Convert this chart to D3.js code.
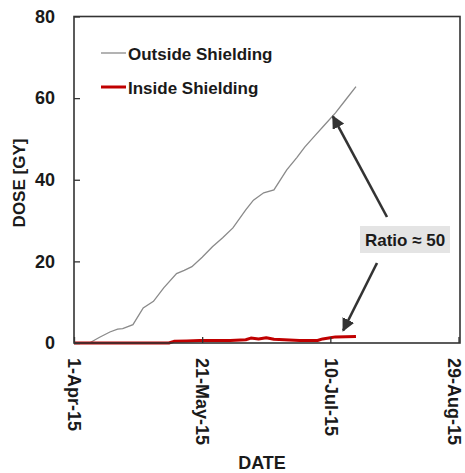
<!DOCTYPE html>
<html>
<head>
<meta charset="utf-8">
<script src="https://cdn.jsdelivr.net/npm/d3@7"></script>
<style>
  html, body { margin: 0; padding: 0; background: #fff; }
  svg { display: block; font-family: "Liberation Sans", Arial, sans-serif; }
</style>
</head>
<body>
<svg id="chart" width="465" height="473"></svg>
<script>
// Cumulative dose outside the shielding
const outsideDates = ["2015-04-07","2015-04-11","2015-04-15","2015-04-18","2015-04-20","2015-04-24",
  "2015-04-28","2015-05-02","2015-05-06","2015-05-11","2015-05-14","2015-05-17","2015-05-21",
  "2015-05-25","2015-05-29","2015-06-02","2015-06-07","2015-06-10","2015-06-14","2015-06-18",
  "2015-06-23","2015-06-27","2015-06-30","2015-07-04","2015-07-08","2015-07-12","2015-07-16","2015-07-20"];
const outsideDose = [0, 1.4, 2.7, 3.4, 3.5, 4.5,
  8.6, 10.2, 13.5, 17.0, 17.8, 18.7, 21.0,
  23.6, 25.8, 28.2, 32.6, 35.0, 36.8, 37.5,
  42.4, 45.5, 48.0, 50.8, 53.6, 56.4, 59.6, 62.8];

// Cumulative dose inside the shielding
const insideDates = ["2015-04-01","2015-05-08","2015-05-10","2015-05-15","2015-05-20",
  "2015-06-01","2015-06-07","2015-06-09","2015-06-12","2015-06-15","2015-06-18",
  "2015-06-22","2015-06-28","2015-07-05","2015-07-07","2015-07-10","2015-07-12","2015-07-20"];
const insideDose = [0, 0, 0.4, 0.5, 0.6,
  0.6, 0.8, 1.2, 1.0, 1.3, 0.9,
  0.8, 0.6, 0.6, 1.0, 1.3, 1.5, 1.6];

const yTicks = [0, 20, 40, 60, 80];
const xTickDates = ["2015-04-01","2015-05-21","2015-07-10","2015-08-29"];
const xTickLabels = ["1-Apr-15","21-May-15","10-Jul-15","29-Aug-15"];

const parse = d3.timeParse("%Y-%m-%d");
const svg = d3.select("#chart");

const plotLeft = 74, plotRight = 460, plotTop = 16.5, plotBottom = 343;
const x = d3.scaleTime().domain([parse("2015-04-01"), parse("2015-08-29")]).range([plotLeft, 458.5]);
const y = d3.scaleLinear().domain([0, 80]).range([plotBottom, plotTop]);

const outside = outsideDates.map((d, i) => ({ date: parse(d), v: outsideDose[i] }));
const inside = insideDates.map((d, i) => ({ date: parse(d), v: insideDose[i] }));

const line = d3.line().x(d => x(d.date)).y(d => y(d.v));

// Series
svg.append("path").datum(outside)
  .attr("d", line).attr("fill", "none")
  .attr("stroke", "#8a8a8a").attr("stroke-width", 1.3);

svg.append("path").datum(inside)
  .attr("d", line).attr("fill", "none")
  .attr("stroke", "#c00000").attr("stroke-width", 3).attr("stroke-linejoin", "round");

// Y axis (inner ticks)
const yAxis = d3.axisLeft(y).tickValues(yTicks).tickSize(-6).tickPadding(19);
const gy = svg.append("g").attr("transform", `translate(${plotLeft},0)`).call(yAxis);
gy.select(".domain").remove();
gy.selectAll(".tick line").attr("stroke", "#333").attr("stroke-width", 1.3);
gy.selectAll(".tick text").attr("font-size", 18).attr("font-weight", "bold")
  .attr("fill", "#1a1a1a").attr("font-family", "Liberation Sans, Arial, sans-serif");

// X axis (inner ticks, vertical labels); the last label is nudged to stay inside the page
const xAxis = d3.axisBottom(x).tickValues(xTickDates.map(parse))
  .tickSize(-6).tickFormat((d, i) => xTickLabels[i]);
const gx = svg.append("g").attr("transform", `translate(0,${plotBottom})`).call(xAxis);
gx.select(".domain").remove();
gx.selectAll(".tick line").attr("stroke", "#333").attr("stroke-width", 1.3);
gx.selectAll(".tick text")
  .attr("font-size", 18).attr("font-weight", "bold").attr("fill", "#1a1a1a")
  .attr("font-family", "Liberation Sans, Arial, sans-serif")
  .attr("text-anchor", "start")
  .attr("transform", (d, i) => `translate(${i === xTickLabels.length - 1 ? -5 : 0},15) rotate(90)`)
  .attr("x", 0).attr("y", 0).attr("dy", "0.35em");

// Plot frame
svg.append("rect").attr("x", plotLeft).attr("y", plotTop)
  .attr("width", plotRight - plotLeft).attr("height", plotBottom - plotTop)
  .attr("fill", "none").attr("stroke", "#333").attr("stroke-width", 1.6);

// Axis titles
svg.append("text").attr("x", 262).attr("y", 469).attr("text-anchor", "middle")
  .attr("font-size", 18).attr("font-weight", "bold").attr("fill", "#1a1a1a").text("DATE");
svg.append("text").attr("transform", "translate(25,183) rotate(-90)")
  .attr("text-anchor", "middle").attr("font-size", 17).attr("font-weight", "bold")
  .attr("fill", "#1a1a1a").text("DOSE [GY]");

// Legend
const legend = [
  { label: "Outside Shielding", color: "#8a8a8a", width: 1.3, yy: 53 },
  { label: "Inside Shielding", color: "#c00000", width: 3, yy: 87 }
];
legend.forEach(l => {
  svg.append("line").attr("x1", 101).attr("x2", 126).attr("y1", l.yy).attr("y2", l.yy)
    .attr("stroke", l.color).attr("stroke-width", l.width);
  svg.append("text").attr("x", 128).attr("y", l.yy + 7)
    .attr("font-size", 17).attr("font-weight", "bold").attr("fill", "#1a1a1a").text(l.label);
});

// Ratio annotation
const defs = svg.append("defs");
defs.append("marker").attr("id", "head").attr("viewBox", "0 0 10 10")
  .attr("refX", 9).attr("refY", 5).attr("markerWidth", 5).attr("markerHeight", 5)
  .attr("orient", "auto")
  .append("path").attr("d", "M0,0 L10,5 L0,10 z").attr("fill", "#333");

const lastIn = inside[inside.length - 1];
svg.append("line").attr("x1", 387).attr("y1", 217)
  .attr("x2", x(parse("2015-07-11"))).attr("y2", y(55.5))
  .attr("stroke", "#333").attr("stroke-width", 2.6).attr("marker-end", "url(#head)");
svg.append("line").attr("x1", 377).attr("y1", 263)
  .attr("x2", x(parse("2015-07-15"))).attr("y2", y(lastIn.v) - 6)
  .attr("stroke", "#333").attr("stroke-width", 2.6).attr("marker-end", "url(#head)");

svg.append("rect").attr("x", 360).attr("y", 226).attr("width", 90).attr("height", 27)
  .attr("fill", "#e4e4e4");
svg.append("text").attr("x", 405).attr("y", 246).attr("text-anchor", "middle")
  .attr("font-size", 17).attr("font-weight", "bold").attr("fill", "#1a1a1a").text("Ratio ≈ 50");
</script>
</body>
</html>
